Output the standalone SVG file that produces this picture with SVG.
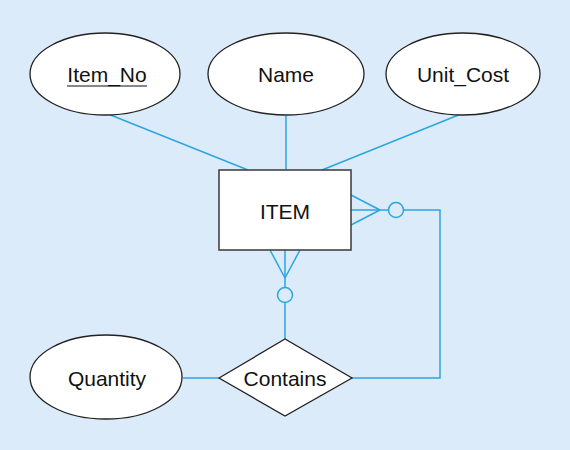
<svg xmlns="http://www.w3.org/2000/svg" width="570" height="450" viewBox="0 0 570 450">
<style>
.shape{fill:#fff;stroke:#222;stroke-width:1.3}
.box{fill:#fff;stroke:#444;stroke-width:1.6}
.lbl{font-family:"Liberation Sans",Arial,sans-serif;font-size:21px;fill:#111;text-anchor:middle;dominant-baseline:central}
.conn{fill:none;stroke:#2aa6df;stroke-width:1.5}
</style>
<rect width="570" height="450" fill="#dcebf9"/>
<g id="connectors" class="conn">
<line x1="108" y1="114" x2="248" y2="170"/>
<line x1="286" y1="116" x2="286" y2="170"/>
<line x1="461" y1="114" x2="322" y2="170"/>
<line x1="351" y1="195" x2="380" y2="210"/>
<line x1="351" y1="210" x2="388" y2="210"/>
<line x1="351" y1="225" x2="380" y2="210"/>
<circle cx="396" cy="210" r="7.5"/>
<polyline points="403.5,210 440,210 440,378 352,378"/>
<line x1="270" y1="250" x2="285" y2="278"/>
<line x1="300" y1="250" x2="285" y2="278"/>
<line x1="285" y1="250" x2="285" y2="287.5"/>
<circle cx="285" cy="295" r="7.5"/>
<line x1="285" y1="302.5" x2="285" y2="339"/>
<line x1="183" y1="378" x2="219" y2="378"/>
</g>
<g id="item_no">
<ellipse class="shape" cx="105" cy="74" rx="75" ry="41"/>
<text class="lbl" x="107" y="74">Item_No</text>
<line x1="67" y1="86" x2="147" y2="86" stroke="#111" stroke-width="1.2"/>
</g>
<g id="name">
<ellipse class="shape" cx="286" cy="74" rx="78" ry="41"/>
<text class="lbl" x="286" y="74">Name</text>
</g>
<g id="unit_cost">
<ellipse class="shape" cx="463" cy="74" rx="77" ry="41"/>
<text class="lbl" x="463" y="74">Unit_Cost</text>
</g>
<g id="item">
<rect class="box" x="219" y="170" width="132" height="80"/>
<text class="lbl" x="285" y="211">ITEM</text>
</g>
<g id="contains">
<polygon class="shape" points="219,378 285,339 352,378 285,416"/>
<text class="lbl" x="285" y="378">Contains</text>
</g>
<g id="quantity">
<ellipse class="shape" cx="106" cy="377" rx="76" ry="42"/>
<text class="lbl" x="107" y="378">Quantity</text>
</g>
</svg>
